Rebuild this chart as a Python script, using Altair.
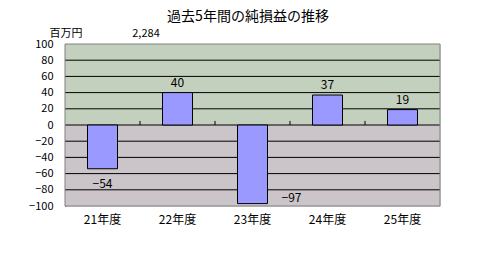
import altair as alt
import pandas as pd

# Net profit/loss over the last five fiscal years (million yen)
years = ["21年度", "22年度", "23年度", "24年度", "25年度"]
values = [-54, 40, -97, 37, 19]
y_ticks = [-100, -80, -60, -40, -20, 0, 20, 40, 60, 80, 100]
grid_values = [-80, -60, -40, -20, 0, 20, 40, 60, 80]

title_text = "過去5年間の純損益の推移"
unit_text = "百万円"
note_text = "2,284"

FONT = "Noto Sans CJK JP"
W, H = 375, 162

df = pd.DataFrame({"year": years, "value": values})
bands = pd.DataFrame({"lo": [0, -100], "hi": [100, 0], "fill": ["#C4D0BE", "#CBC4C8"]})
grid = pd.DataFrame({"g": grid_values})

yscale = alt.Scale(domain=[-100, 100], nice=False, zero=False)
xscale = alt.Scale(domain=years, paddingInner=0.6, paddingOuter=0.3)
yaxis = alt.Axis(values=y_ticks, grid=False, ticks=False, domain=True,
                 domainColor="black", domainWidth=1, labelPadding=12,
                 labelFontSize=11, labelColor="black", labelFont=FONT,
                 labelOverlap=False, labelFlush=False, title=None)
xaxis = alt.Axis(domain=False, ticks=False, labelAngle=0, labelPadding=8,
                 labelFontSize=12, labelColor="black", labelFont=FONT,
                 labelOverlap=False, title=None)

background = alt.Chart(bands).mark_rect().encode(
    y=alt.Y("lo:Q", scale=yscale, axis=yaxis),
    y2="hi:Q",
    x=alt.value(0),
    x2=alt.value(W),
    color=alt.Color("fill:N", scale=None),
)

gridlines = alt.Chart(grid).mark_rule(color="black", strokeWidth=1).encode(
    y=alt.Y("g:Q", scale=yscale, axis=yaxis)
)

border = alt.Chart(pd.DataFrame({"k": [0]})).mark_rect(
    fill=None, stroke="#808080", strokeWidth=1
).encode(x=alt.value(0), x2=alt.value(W), y=alt.value(0), y2=alt.value(H))

bars = alt.Chart(df).mark_bar(
    color="#9999FF", stroke="black", strokeWidth=1
).encode(
    x=alt.X("year:N", scale=xscale, sort=years, axis=xaxis),
    y=alt.Y("value:Q", scale=yscale, axis=yaxis),
    y2=alt.datum(0),
)

# small category-divider ticks on the zero line
dividers = alt.Chart(df).transform_filter(
    alt.datum.year != years[-1]
).mark_rule(color="black", xOffset=37.5).encode(
    x=alt.X("year:N", scale=xscale, sort=years, axis=xaxis),
    y=alt.Y(datum=0, scale=yscale, axis=yaxis),
    y2=alt.datum(5),
)

label_style = dict(font=FONT, fontSize=12, color="black", baseline="middle")

pos_labels = alt.Chart(df).transform_filter(alt.datum.value >= 0).mark_text(
    dy=-10, **label_style
).encode(x=alt.X("year:N", scale=xscale, sort=years, axis=xaxis),
         y=alt.Y("value:Q", scale=yscale, axis=yaxis), text="value:Q")

neg_labels = alt.Chart(df).transform_filter(
    (alt.datum.value < 0) & (alt.datum.value > -90)
).mark_text(dy=15, **label_style).encode(
    x=alt.X("year:N", scale=xscale, sort=years, axis=xaxis),
    y=alt.Y("value:Q", scale=yscale, axis=yaxis), text="value:Q")

# labels that would fall below the plot are kept inside, beside the bar
clip_labels = alt.Chart(df).transform_filter(alt.datum.value <= -90).transform_calculate(
    ly="-90"
).mark_text(dx=39, **label_style).encode(
    x=alt.X("year:N", scale=xscale, sort=years, axis=xaxis),
    y=alt.Y("ly:Q", scale=yscale, axis=yaxis), text="value:Q")

text_df = pd.DataFrame({"k": [0]})
title = alt.Chart(text_df).mark_text(font=FONT, fontSize=14, color="black",
                                     baseline="middle").encode(
    x=alt.value(183), y=alt.value(-27), text=alt.value(title_text))
unit = alt.Chart(text_df).mark_text(font=FONT, fontSize=11, color="black",
                                    baseline="middle").encode(
    x=alt.value(1), y=alt.value(-10), text=alt.value(unit_text))
note = alt.Chart(text_df).mark_text(font=FONT, fontSize=11, color="black",
                                    baseline="middle").encode(
    x=alt.value(81), y=alt.value(-10), text=alt.value(note_text))

chart = alt.layer(
    background, gridlines, border, bars, dividers,
    pos_labels, neg_labels, clip_labels, title, unit, note
).properties(
    width=W, height=H,
    autosize=alt.AutoSizeParams(type="none"),
    padding={"left": 65, "top": 44, "right": 62, "bottom": 57},
).configure_view(stroke=None).configure_axis(
    labelOverlap=False
).configure(background="white")

chart.save("out.html", embed_options={"renderer": "svg", "actions": False})
